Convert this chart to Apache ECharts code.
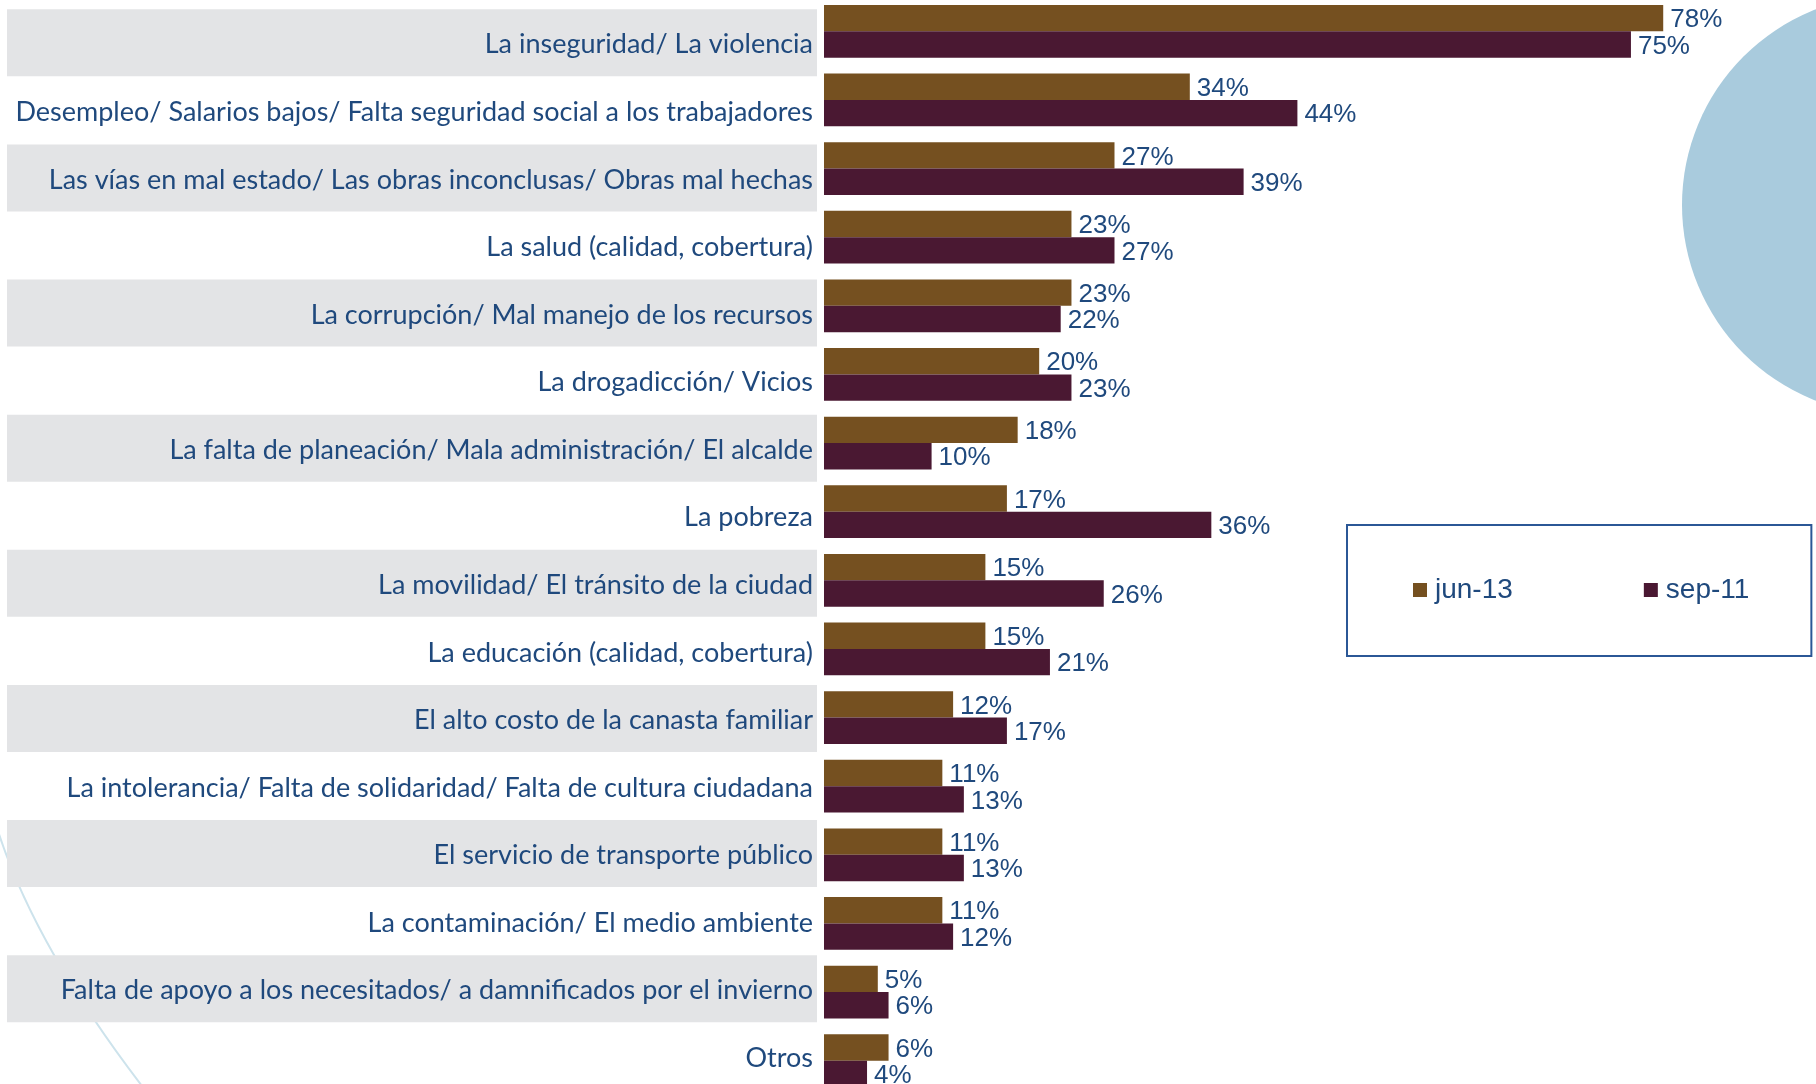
<!DOCTYPE html>
<html>
<head>
<meta charset="utf-8">
<script src="https://cdn.jsdelivr.net/npm/echarts@6/dist/echarts.min.js"></script>
<style>
  html, body { margin: 0; padding: 0; background: #fff; }
  #chart { width: 1816px; height: 1084px; }
</style>
</head>
<body>
<div id="chart"></div>
<script>
// problemas de la ciudad, jun-13 vs sep-11
const categories = [
  'La inseguridad/ La violencia',
  'Desempleo/ Salarios bajos/ Falta seguridad social a los trabajadores',
  'Las vías en mal estado/ Las obras inconclusas/ Obras mal hechas',
  'La salud (calidad, cobertura)',
  'La corrupción/ Mal manejo de los recursos',
  'La drogadicción/ Vicios',
  'La falta de planeación/ Mala administración/ El alcalde',
  'La pobreza',
  'La movilidad/ El tránsito de la ciudad',
  'La educación (calidad, cobertura)',
  'El alto costo de la canasta familiar',
  'La intolerancia/ Falta de solidaridad/ Falta de cultura ciudadana',
  'El servicio de transporte público',
  'La contaminación/ El medio ambiente',
  'Falta de apoyo a los necesitados/ a damnificados por el invierno',
  'Otros'
]
const jun13 = [78, 34, 27, 23, 23, 20, 18, 17, 15, 15, 12, 11, 11, 11, 5, 6]
const sep11 = [75, 44, 39, 27, 22, 23, 10, 36, 26, 21, 17, 13, 13, 12, 6, 4]
const seriesNames = ['jun-13', 'sep-11']

var textBlue = '#1F497D'
var catFont = 'Lato, "Noto Sans", sans-serif'
var numFont = '"Liberation Sans", Arial, sans-serif'

var chart = echarts.init(document.getElementById('chart'), null, { renderer: 'canvas' })

var labelStyle = function(bg) {
  return {
    backgroundColor: bg,
    width: 806,
    height: 63,
    lineHeight: 63,
    align: 'right',
    padding: [4, 4, 0, 0],
    color: textBlue,
    fontSize: 27,
    fontFamily: catFont
  }
}

var barLabel = {
  show: true,
  position: 'right',
  distance: 7,
  offset: [0, 2],
  formatter: '{c}%',
  color: textBlue,
  fontSize: 26,
  fontFamily: numFont
}

var option = {
  backgroundColor: '#ffffff',
  animation: false,
  graphic: [
    {
      // circulo decorativo de la derecha
      type: 'circle',
      z: -1,
      shape: { cx: 1892, cy: 205, r: 210 },
      style: { fill: '#A9CBDD' }
    },
    {
      // arco fino abajo a la izquierda
      type: 'bezierCurve',
      z: -1,
      shape: { x1: -3, y1: 828, cpx1: 34, cpy1: 945, x2: 142, y2: 1086 },
      style: { stroke: '#CDE3EC', lineWidth: 2, fill: null }
    }
  ],
  legend: {
    data: seriesNames,
    left: 1347,
    top: 525,
    padding: [50, 62, 51, 66],
    itemGap: 131,
    itemWidth: 14,
    itemHeight: 14,
    icon: 'rect',
    borderColor: '#2B5796',
    borderWidth: 2,
    borderRadius: 0,
    textStyle: {
      color: textBlue,
      fontSize: 28,
      lineHeight: 30,
      fontFamily: numFont,
      padding: [0, 0, 0, 3]
    }
  },
  grid: [
    { left: 824, top: -3, width: 992, height: 1098, outerBoundsMode: 'none' },
    { left: 817, top: 9, width: 1, height: 1081, outerBoundsMode: 'none' }
  ],
  xAxis: [
    { gridIndex: 0, type: 'value', min: 0, max: 92.2, show: false },
    { gridIndex: 1, type: 'value', min: 0, max: 1, show: false }
  ],
  yAxis: [
    { gridIndex: 0, type: 'category', data: categories, inverse: true, show: false },
    {
      gridIndex: 1,
      type: 'category',
      data: categories,
      inverse: true,
      axisLine: { show: false },
      axisTick: { show: false },
      splitLine: { show: false },
      axisLabel: {
        interval: 0,
        margin: 0,
        formatter: function(v, i) {
          return (i % 2 === 0 ? '{g|' : '{w|') + v + '}'
        },
        rich: {
          g: labelStyle('#E3E4E6'),
          w: labelStyle('transparent')
        }
      }
    }
  ],
  series: [
    {
      name: seriesNames[0],
      type: 'bar',
      xAxisIndex: 0,
      yAxisIndex: 0,
      data: jun13,
      barGap: '0%',
      barCategoryGap: '23%',
      itemStyle: { color: '#755020' },
      label: barLabel
    },
    {
      name: seriesNames[1],
      type: 'bar',
      xAxisIndex: 0,
      yAxisIndex: 0,
      data: sep11,
      barGap: '0%',
      barCategoryGap: '23%',
      itemStyle: { color: '#4A1832' },
      label: barLabel
    }
  ]
}

chart.setOption(option)
</script>
</body>
</html>
